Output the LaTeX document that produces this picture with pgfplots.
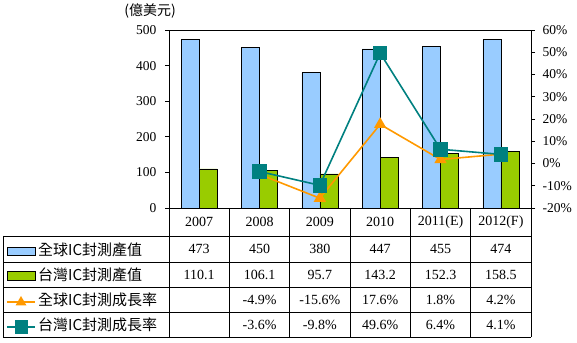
\documentclass[border=0pt]{standalone}
\usepackage{pgfplots}
\pgfplotsset{compat=1.18}
\usepackage{fontspec}
\setmainfont{Liberation Serif}
\newfontfamily\cjk{Noto Sans CJK TC}
\definecolor{barblue}{HTML}{99CCFF}
\definecolor{bargreen}{HTML}{99CC00}
\definecolor{lineorange}{HTML}{FF9900}
\definecolor{lineteal}{HTML}{008080}
\newcommand{\numfont}{\fontsize{14}{16}\selectfont}
\newcommand{\tickfont}{\fontsize{13.5}{15}\selectfont}
\newcommand{\cjkfont}{\cjk\fontsize{15}{17}\selectfont}
\begin{document}
\begin{tikzpicture}[x=1pt,y=1pt]
\useasboundingbox (0,0) rectangle (577,342);
\begin{axis}[at={(169pt,134pt)}, anchor=south west, scale only axis,
  width=362pt, height=178pt, xmin=-0.5, xmax=5.5, ymin=0, ymax=500,
  ytick={0,100,200,300,400,500}, yticklabels={0,100,200,300,400,500},
  xtick=\empty, ytick pos=left, tick align=outside, major tick length=4pt,
  ybar=0pt, bar width=18pt, axis line style={line width=0.8pt},
  tick style={line width=0.8pt, black},
  yticklabel style={font=\tickfont, xshift=-5pt},
  clip=false]
\addplot[fill=barblue, draw=black, line width=0.6pt] coordinates {(0,473) (1,450) (2,380) (3,447) (4,455) (5,474)};
\addplot[fill=bargreen, draw=black, line width=0.6pt] coordinates {(0,110.1) (1,106.1) (2,95.7) (3,143.2) (4,152.3) (5,158.5)};
\end{axis}
\begin{axis}[at={(169pt,134pt)}, anchor=south west, scale only axis,
  width=362pt, height=178pt, xmin=-0.5, xmax=5.5, ymin=-20, ymax=60,
  ytick={-20,-10,0,10,20,30,40,50,60},
  yticklabels={-20\%,-10\%,0\%,10\%,20\%,30\%,40\%,50\%,60\%},
  axis y line*=right, axis x line=none, tick align=outside, major tick length=4pt,
  axis line style={line width=0.8pt, -},
  tick style={line width=0.8pt, black},
  yticklabel style={font=\tickfont, xshift=4pt},
  clip=false]
\addplot[color=lineorange, line width=1.6pt, mark=triangle*, mark size=5.5pt] coordinates {(1,-4.9) (2,-15.6) (3,17.6) (4,1.8) (5,4.2)};
\addplot[color=lineteal, line width=1.6pt, mark=square*, mark size=6.5pt] coordinates {(1,-3.6) (2,-9.8) (3,49.6) (4,6.4) (5,4.1)};
\end{axis}
\node[font=\cjk\fontsize{14}{16}\selectfont] at (150,331) {(億美元)};
% table grid
\begin{scope}[line width=0.8pt]
\foreach \k in {0,...,6} { \draw ({169+60.333*\k},134) -- ({169+60.333*\k},5); }
\draw (3,106) -- (3,5);
\foreach \yy in {106,80,55,30,5} { \draw (3,\yy) -- (531,\yy); }
\end{scope}
% header
\foreach \lab [count=\i from 0] in {2007,2008,2009,2010,2011(E),2012(F)} {
  \node[font=\numfont] at ({199.2+60.333*\i},120) {\lab};
}
\foreach \lab [count=\i from 0] in {473,450,380,447,455,474} {
  \node[font=\numfont] at ({199.2+60.333*\i},93) {\lab};
}
\foreach \lab [count=\i from 0] in {110.1,106.1,95.7,143.2,152.3,158.5} {
  \node[font=\numfont] at ({199.2+60.333*\i},67.5) {\lab};
}
\foreach \lab [count=\i from 1] in {-4.9\%,-15.6\%,17.6\%,1.8\%,4.2\%} {
  \node[font=\numfont] at ({199.2+60.333*\i},42.5) {\lab};
}
\foreach \lab [count=\i from 1] in {-3.6\%,-9.8\%,49.6\%,6.4\%,4.1\%} {
  \node[font=\numfont] at ({199.2+60.333*\i},17.5) {\lab};
}
% legend keys
\draw[fill=barblue, line width=0.8pt] (7,87) rectangle (35,95);
\draw[fill=bargreen, line width=0.8pt] (7,62) rectangle (35,71);
\draw[lineorange, line width=1.6pt] (7,40) -- (35,40);
\fill[lineorange] (21,46) -- (15.5,36.5) -- (26.5,36.5) -- cycle;
\draw[lineteal, line width=1.6pt] (7,15) -- (35,15);
\fill[lineteal] (15,8.5) rectangle (28,21.5);
\node[font=\cjkfont, anchor=west, inner sep=0pt] at (38,92) {全球IC封測產值};
\node[font=\cjkfont, anchor=west, inner sep=0pt] at (38,67) {台灣IC封測產值};
\node[font=\cjkfont, anchor=west, inner sep=0pt] at (38,42) {全球IC封測成長率};
\node[font=\cjkfont, anchor=west, inner sep=0pt] at (38,17) {台灣IC封測成長率};
\end{tikzpicture}
\end{document}
